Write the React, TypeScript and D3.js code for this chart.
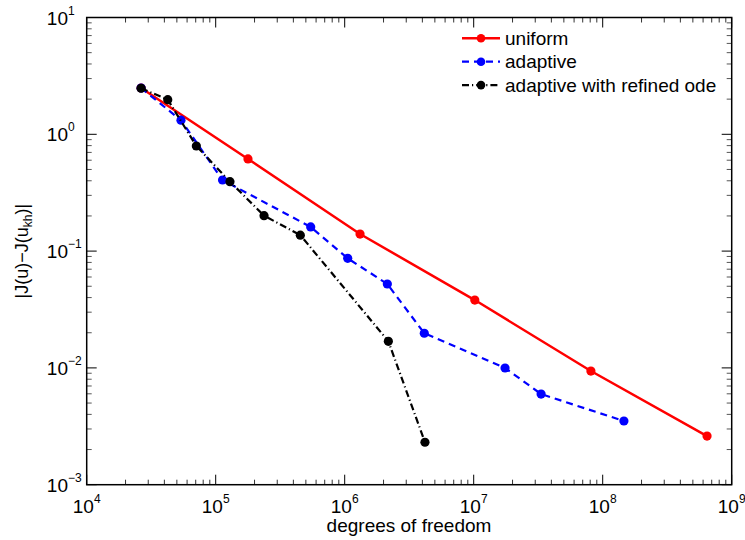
import React from "react";
import * as d3 from "d3";

const uniformDof = [26400, 178000, 1315000, 10200000, 81000000, 644000000];
const uniformErr = [2.49, 0.615, 0.14, 0.0381, 0.0094, 0.00261];

const adaptiveDof = [26400, 53800, 113000, 545000, 1055000, 2140000, 4140000, 17500000, 33300000, 146000000];
const adaptiveErr = [2.49, 1.32, 0.406, 0.161, 0.0867, 0.0523, 0.0198, 0.00998, 0.00597, 0.00351];

const refinedDof = [26400, 42500, 70800, 129000, 237000, 453000, 2180000, 4190000];
const refinedErr = [2.48, 1.98, 0.794, 0.393, 0.201, 0.137, 0.0169, 0.00231];

const xTickExps = [4, 5, 6, 7, 8, 9];
const yTickExps = [-3, -2, -1, 0, 1];
const legendLabels = ["uniform", "adaptive", "adaptive with refined ode"];

const W = 745, H = 540;
const L = 86.7, R = 731.7, T = 17.5, B = 484.7;

export default function App() {
  const x = d3.scaleLog().domain([1e4, 1e9]).range([L, R]);
  const y = d3.scaleLog().domain([1e-3, 1e1]).range([B, T]);
  const line = d3.line<[number, number]>().x(d => x(d[0])).y(d => y(d[1]));
  const font = "'Liberation Sans', Arial, Helvetica, sans-serif";

  const series = [
    { dof: uniformDof, err: uniformErr, color: "#ff0000", dash: "none", width: 2.5 },
    { dof: adaptiveDof, err: adaptiveErr, color: "#0000ff", dash: "7,5", width: 2.2 },
    { dof: refinedDof, err: refinedErr, color: "#000000", dash: "7,3,1.2,3", width: 2.2 },
  ];

  const xMinor: number[] = [];
  for (let e = 4; e < 9; e++) for (let m = 2; m <= 9; m++) xMinor.push(m * Math.pow(10, e));
  const yMinor: number[] = [];
  for (let e = -3; e < 1; e++) for (let m = 2; m <= 9; m++) yMinor.push(m * Math.pow(10, e));

  return (
    <svg width={W} height={H} style={{ position: "absolute", left: 0, top: 0, background: "#fff" }} fontFamily={font}>
      <rect x={0} y={0} width={W} height={H} fill="#fff" />
      {xMinor.map((v, i) => (
        <g key={"xm" + i} stroke="#333" strokeWidth={1}>
          <line x1={x(v)} x2={x(v)} y1={B} y2={B - 5} />
          <line x1={x(v)} x2={x(v)} y1={T} y2={T + 5} />
        </g>
      ))}
      {yMinor.map((v, i) => (
        <g key={"ym" + i} stroke="#555" strokeWidth={1}>
          <line x1={L} x2={L + 5} y1={y(v)} y2={y(v)} />
          <line x1={R} x2={R - 5} y1={y(v)} y2={y(v)} />
        </g>
      ))}
      {xTickExps.map(e => (
        <g key={"xt" + e} stroke="#000" strokeWidth={1}>
          <line x1={x(Math.pow(10, e))} x2={x(Math.pow(10, e))} y1={B} y2={B - 10} />
          <line x1={x(Math.pow(10, e))} x2={x(Math.pow(10, e))} y1={T} y2={T + 10} />
        </g>
      ))}
      {yTickExps.map(e => (
        <g key={"yt" + e} stroke="#000" strokeWidth={1}>
          <line x1={L} x2={L + 10} y1={y(Math.pow(10, e))} y2={y(Math.pow(10, e))} />
          <line x1={R} x2={R - 10} y1={y(Math.pow(10, e))} y2={y(Math.pow(10, e))} />
        </g>
      ))}
      <rect x={L} y={T} width={R - L} height={B - T} fill="none" stroke="#000" strokeWidth={1.5} />

      {xTickExps.map(e => (
        <text key={"xl" + e} x={x(Math.pow(10, e))} y={512.5} textAnchor="middle" fontSize={19} fill="#000">
          10<tspan fontSize={12} dy={-10}>{e}</tspan>
        </text>
      ))}
      {yTickExps.map(e => (
        <text key={"yl" + e} y={y(Math.pow(10, e)) + 7} fontSize={19} fill="#000">
          <tspan x={68} textAnchor="end">10</tspan>
          <tspan fontSize={12} dy={-10} x={68}>{e < 0 ? "\u2212" + Math.abs(e) : e}</tspan>
        </text>
      ))}

      {series.map((s, i) => {
        const pts = s.dof.map((d, j) => [d, s.err[j]] as [number, number]);
        return (
          <g key={"s" + i}>
            <path d={line(pts) || ""} fill="none" stroke={s.color} strokeWidth={s.width} strokeDasharray={s.dash} />
            {pts.map((p, j) => (
              <circle key={j} cx={x(p[0])} cy={y(p[1])} r={4.6} fill={s.color} />
            ))}
          </g>
        );
      })}

      {series.map((s, i) => {
        const ly = 38.3 + i * 23.4;
        return (
          <g key={"lg" + i}>
            <line x1={462} x2={500} y1={ly} y2={ly} stroke={s.color} strokeWidth={s.width} strokeDasharray={s.dash} />
            <circle cx={481} cy={ly} r={4.3} fill={s.color} />
            <text x={505} y={ly + 6.5} fontSize={19} fill="#000">{legendLabels[i]}</text>
          </g>
        );
      })}

      <text x={409} y={532} textAnchor="middle" fontSize={19} fill="#000">degrees of freedom</text>
      <text transform={`translate(28, ${(T + B) / 2}) rotate(-90)`} textAnchor="middle" fontSize={18} fill="#000">
        |J(u)−J(u<tspan fontSize={12} dy={4}>kh</tspan><tspan dy={-4}>)|</tspan>
      </text>
    </svg>
  );
}
